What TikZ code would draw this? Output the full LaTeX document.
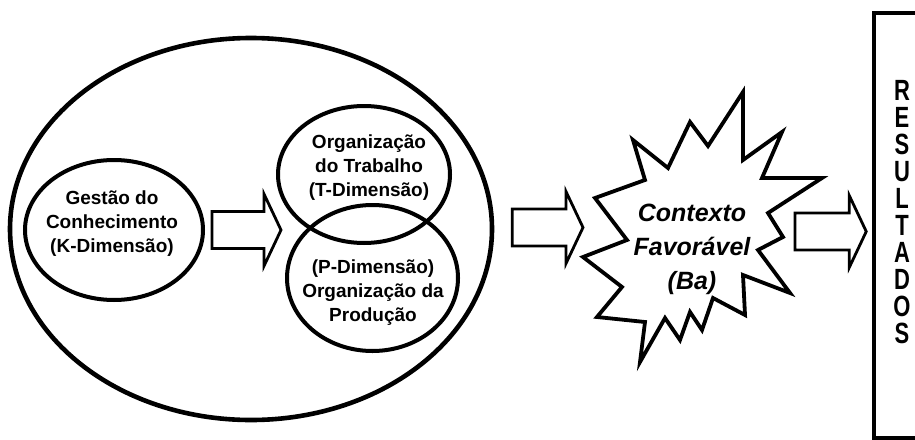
\documentclass[tikz,border=0pt]{standalone}
\usepackage{fontspec}
\usepackage{graphicx}
\setmainfont{Liberation Sans}
\usetikzlibrary{shapes.geometric,calc}

\tikzset{
  ring/.style={draw, ellipse, line width=4pt, inner sep=0pt},
  txt/.style={font=\fontsize{19}{24}\selectfont\bfseries, align=center, inner sep=0pt},
  startxt/.style={font=\fontsize{25}{34}\selectfont\bfseries\itshape, align=center, inner sep=0pt},
  burst/.style={draw, line width=3.8pt, line join=miter, miter limit=20},
  blockarrow/.style={draw, line width=2.8pt, fill=white, line join=miter,
    to path={let \p1=(\tikztostart), \p2=(\tikztotarget) in
      (\x1,\y1+18.5pt) -- (\x2-17pt,\y1+18.5pt) -- (\x2-17pt,\y1+36pt) -- (\x2,\y1)
      -- (\x2-17pt,\y1-36pt) -- (\x2-17pt,\y1-18.5pt) -- (\x1,\y1-18.5pt) -- cycle}},
}

\begin{document}
\begin{tikzpicture}[x=1pt,y=-1pt]
\useasboundingbox (0,0) rectangle (915,439);

% outer ellipse holding the three dimensions
\node[ring, line width=4.6pt, minimum width=482pt, minimum height=382pt] (outer) at (251,229) {};

% knowledge dimension
\node[ring, minimum width=178pt, minimum height=140pt] (gk) at (114,230) {};
\node[txt] (gkt) at (112,224) {Gestão do\\Conhecimento\\(K-Dimensão)};

% work and production dimensions
\node[ring, minimum width=172pt, minimum height=137pt] (top) at (364,174.5) {};
\node[txt] (topt) at (369,168) {Organização\\do Trabalho\\(T-Dimensão)};
\node[ring, minimum width=171pt, minimum height=146pt] (bot) at (372.5,278) {};
\node[txt] (bott) at (373,293) {(P-Dimensão)\\Organização da\\Produção};

% starburst: favourable context
\coordinate (starL) at (583,257);
\draw[burst] (starL) -- (627,240) -- (595,198) -- (645,180) -- (633,140) -- (668,168)
  -- (690,122) -- (708,146) -- (743,92) -- (743,160) -- (782,132) -- (762,178)
  -- (822,178) -- (768,213) -- (783,237) -- (758,250) -- (790,293) -- (743,275)
  -- (745,315) -- (713,298) -- (702,330) -- (690,312) -- (680,340) -- (665,318)
  -- (640,362) -- (645,322) -- (597,317) -- (622,287) -- cycle;
\node[startxt] (ba) at (692,249) {Contexto\\Favorável\\(Ba)};

% results box
\node[draw, line width=3.5pt, minimum width=56pt, minimum height=425pt, inner sep=0pt] (res) at (902,225.5) {};
\node[font=\fontsize{22}{27}\selectfont\bfseries, align=center, inner sep=0pt] (rest) at (902,212.5)
  {\scalebox{1}[1.33]{R}\\\scalebox{1}[1.33]{E}\\\scalebox{1}[1.33]{S}\\\scalebox{1}[1.33]{U}\\\scalebox{1}[1.33]{L}\\
   \scalebox{1}[1.33]{T}\\\scalebox{1}[1.33]{A}\\\scalebox{1}[1.33]{D}\\\scalebox{1}[1.33]{O}\\\scalebox{1}[1.33]{S}};

% block arrows
\coordinate (a3s) at (795,231.5);
\draw[blockarrow] ([shift={(7,0)}]gk.east) to ([xshift=5pt]top.west);
\draw[blockarrow] ([shift={(18,-1.5)}]outer.east) to (starL);
\draw[blockarrow] (a3s) to ([xshift=-6pt]res.west);
\end{tikzpicture}
\end{document}
